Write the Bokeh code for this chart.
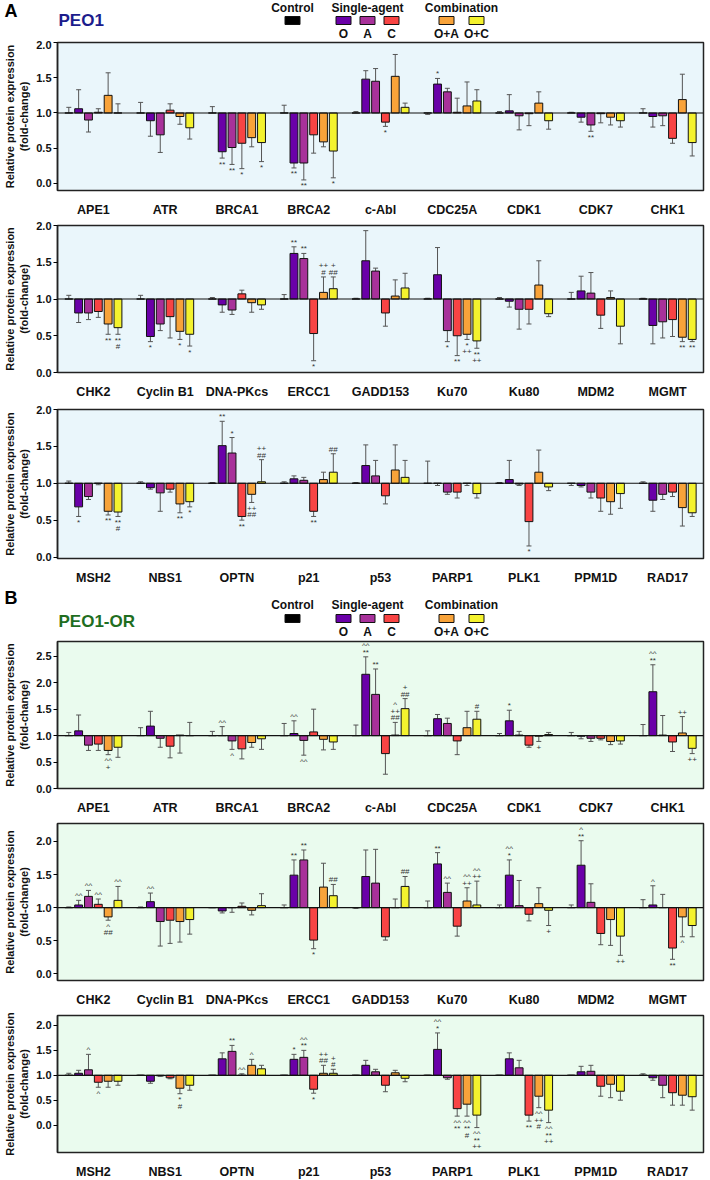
from bokeh.plotting import figure
from bokeh.models import (FactorRange, ColumnDataSource, NumeralTickFormatter, FixedTicker, Range1d, Span,
                          CustomJSTickFormatter)
from bokeh.transform import dodge
from bokeh.layouts import column
from bokeh.embed import file_html
from bokeh.resources import INLINE
from bokeh.core.properties import value

SERIES = ["Control", "O", "A", "C", "O+A", "O+C"]
COLORS = ["#000000", "#6a00a8", "#a8319a", "#f84444", "#f8a33a", "#f4f22e"]
LEG_LABELS = ["O", "A", "C", "O+A", "O+C"]

# ---------------- A: PEO1 ----------------
A1_proteins = ["APE1", "ATR", "BRCA1", "BRCA2", "c-Abl", "CDC25A", "CDK1", "CDK7", "CHK1"]
A1_vals = {
    "Control": [1.0, 1.0, 1.0, 1.0, 1.0, 1.0, 1.0, 1.0, 1.0],
    "O":   [1.06, 0.89, 0.45, 0.29, 1.48, 1.41, 1.03, 0.94, 0.95],
    "A":   [0.90, 0.69, 0.51, 0.29, 1.45, 1.30, 0.96, 0.83, 0.96],
    "C":   [1.01, 1.04, 0.57, 0.69, 0.87, 1.01, 0.99, 0.99, 0.64],
    "O+A": [1.25, 0.95, 0.65, 0.59, 1.52, 1.10, 1.14, 0.94, 1.19],
    "O+C": [1.00, 0.79, 0.58, 0.46, 1.08, 1.17, 0.89, 0.89, 0.58],
}
A1_err = {
    "Control": [1.08, 1.15, 1.09, 1.11, 1.02, 0.98, 1.02, 1.01, 1.06],
    "O":   [1.33, 0.67, 0.36, 0.22, 1.60, 1.49, 1.26, 0.87, 0.80],
    "A":   [0.73, 0.44, 0.27, 0.05, 1.63, 1.35, 0.76, 0.74, 0.82],
    "C":   [1.06, 1.13, 0.21, 0.43, 0.81, 1.21, 0.82, 0.86, 0.57],
    "O+A": [1.57, 0.84, 0.52, 0.52, 1.83, 1.44, 1.30, 0.83, 1.55],
    "O+C": [1.13, 0.63, 0.31, 0.08, 1.14, 1.33, 0.77, 0.80, 0.39],
}
A1_sig = {("BRCA1", "O"): "**", ("BRCA1", "A"): "**", ("BRCA1", "C"): "*", ("BRCA1", "O+C"): "*",
          ("BRCA2", "O"): "**", ("BRCA2", "A"): "**", ("BRCA2", "O+C"): "*",
          ("c-Abl", "C"): "*", ("CDC25A", "O"): "*", ("CDK7", "A"): "**"}

A2_proteins = ["CHK2", "Cyclin B1", "DNA-PKcs", "ERCC1", "GADD153", "Ku70", "Ku80", "MDM2", "MGMT"]
A2_vals = {
    "Control": [1.0, 1.0, 1.0, 1.0, 1.0, 1.0, 1.0, 1.0, 1.0],
    "O":   [0.81, 0.49, 0.92, 1.62, 1.52, 1.33, 0.97, 1.11, 0.64],
    "A":   [0.81, 0.66, 0.85, 1.55, 1.38, 0.57, 0.86, 1.08, 0.69],
    "C":   [0.83, 0.76, 1.07, 0.53, 0.81, 0.50, 0.86, 0.78, 0.72],
    "O+A": [0.66, 0.56, 0.95, 1.09, 1.04, 0.52, 1.19, 1.02, 0.48],
    "O+C": [0.61, 0.52, 0.92, 1.14, 1.15, 0.43, 0.80, 0.63, 0.45],
}
A2_err = {
    "Control": [1.05, 1.05, 1.02, 1.06, 1.01, 1.01, 1.02, 1.09, 1.01],
    "O":   [0.68, 0.42, 0.82, 1.71, 1.93, 1.70, 0.89, 1.31, 0.39],
    "A":   [0.72, 0.57, 0.79, 1.62, 1.42, 0.42, 0.59, 1.36, 0.47],
    "C":   [0.75, 0.47, 1.12, 0.16, 0.63, 0.23, 0.66, 0.60, 0.49],
    "O+A": [0.52, 0.45, 0.82, 1.30, 1.26, 0.45, 1.52, 1.11, 0.42],
    "O+C": [0.52, 0.36, 0.86, 1.30, 1.35, 0.33, 0.76, 0.39, 0.42],
}
A2_sig = {("CHK2", "O+A"): "**", ("CHK2", "O+C"): "**\n#",
          ("Cyclin B1", "O"): "*", ("Cyclin B1", "O+A"): "*", ("Cyclin B1", "O+C"): "*",
          ("ERCC1", "O"): "**", ("ERCC1", "A"): "**", ("ERCC1", "C"): "*",
          ("ERCC1", "O+A"): "++\n#", ("ERCC1", "O+C"): "+\n##",
          ("Ku70", "A"): "*", ("Ku70", "C"): "**", ("Ku70", "O+A"): "*\n++", ("Ku70", "O+C"): "**\n++",
          ("MGMT", "O+A"): "**", ("MGMT", "O+C"): "**"}

A3_proteins = ["MSH2", "NBS1", "OPTN", "p21", "p53", "PARP1", "PLK1", "PPM1D", "RAD17"]
A3_vals = {
    "Control": [1.0, 1.0, 1.0, 1.0, 1.0, 1.0, 1.0, 1.0, 1.0],
    "O":   [0.68, 0.94, 1.51, 1.06, 1.24, 1.00, 1.05, 0.97, 0.77],
    "A":   [0.82, 0.87, 1.41, 1.04, 1.10, 0.88, 0.99, 0.88, 0.85],
    "C":   [1.00, 0.92, 0.55, 0.62, 0.83, 0.88, 0.48, 0.80, 0.88],
    "O+A": [0.62, 0.72, 0.85, 1.05, 1.18, 1.00, 1.15, 0.75, 0.67],
    "O+C": [0.61, 0.75, 1.02, 1.15, 1.08, 0.86, 0.95, 0.86, 0.60],
}
A3_err = {
    "Control": [1.03, 1.02, 1.01, 1.02, 1.01, 1.30, 1.01, 0.97, 1.02],
    "O":   [0.55, 0.92, 1.84, 1.10, 1.52, 0.97, 1.31, 0.95, 0.62],
    "A":   [0.78, 0.62, 1.62, 1.08, 1.31, 0.85, 0.97, 0.80, 0.78],
    "C":   [0.98, 0.88, 0.50, 0.55, 0.72, 0.80, 0.15, 0.62, 0.82],
    "O+A": [0.57, 0.60, 0.74, 1.15, 1.52, 0.97, 1.45, 0.58, 0.42],
    "O+C": [0.55, 0.68, 1.32, 1.40, 1.31, 0.80, 0.90, 0.66, 0.55],
}
A3_sig = {("MSH2", "O"): "*", ("MSH2", "O+A"): "**", ("MSH2", "O+C"): "**\n#",
          ("NBS1", "O+A"): "**", ("NBS1", "O+C"): "*",
          ("OPTN", "O"): "**", ("OPTN", "A"): "*", ("OPTN", "C"): "**",
          ("OPTN", "O+A"): "++\n##", ("OPTN", "O+C"): "++\n##",
          ("p21", "C"): "**", ("p21", "O+C"): "##", ("PLK1", "C"): "*"}

# ---------------- B: PEO1-OR ----------------
B1_proteins = A1_proteins
B1_vals = {
    "Control": [1.0, 1.0, 1.0, 1.0, 1.0, 1.0, 1.0, 1.0, 1.0],
    "O":   [1.09, 1.18, 1.00, 1.04, 2.16, 1.32, 1.28, 0.99, 1.83],
    "A":   [0.82, 0.95, 0.90, 0.91, 1.78, 1.23, 1.01, 0.95, 1.01],
    "C":   [0.84, 0.80, 0.75, 1.07, 0.66, 0.90, 0.82, 0.95, 0.88],
    "O+A": [0.72, 1.01, 0.87, 0.93, 1.01, 1.15, 0.99, 0.89, 1.05],
    "O+C": [0.78, 1.00, 0.94, 0.88, 1.51, 1.31, 1.02, 0.90, 0.76],
}
B1_err = {
    "Control": [1.06, 1.15, 1.08, 1.23, 1.20, 1.09, 1.04, 1.06, 1.21],
    "O":   [1.39, 1.46, 1.17, 1.28, 2.49, 1.40, 1.48, 0.94, 2.34],
    "A":   [0.72, 0.78, 0.74, 0.63, 2.26, 1.33, 1.08, 0.89, 1.38],
    "C":   [0.72, 0.58, 0.56, 1.50, 0.27, 0.64, 0.78, 0.92, 0.70],
    "O+A": [0.64, 0.67, 0.78, 0.73, 1.25, 1.46, 0.89, 0.83, 1.36],
    "O+C": [0.59, 1.25, 0.74, 0.74, 1.70, 1.46, 1.06, 0.84, 0.66],
}
B1_sig = {("APE1", "O+A"): "^^\n+", ("BRCA1", "O"): "^^", ("BRCA1", "A"): "^",
          ("BRCA2", "O"): "^^", ("BRCA2", "A"): "^^",
          ("c-Abl", "O"): "^^\n**", ("c-Abl", "A"): "**", ("c-Abl", "O+A"): "^\n++\n##",
          ("c-Abl", "O+C"): "+\n##", ("CDC25A", "O+C"): "#", ("CDK1", "O"): "*", ("CDK1", "O+A"): "+",
          ("CHK1", "O"): "^^\n**", ("CHK1", "O+A"): "++", ("CHK1", "O+C"): "++"}

B2_proteins = A2_proteins
B2_vals = {
    "Control": [1.0, 1.0, 1.0, 1.0, 1.0, 1.0, 1.0, 1.0, 1.0],
    "O":   [1.04, 1.09, 0.95, 1.49, 1.47, 1.66, 1.49, 1.64, 1.04],
    "A":   [1.17, 0.79, 1.00, 1.72, 1.37, 1.23, 1.03, 1.08, 1.00],
    "C":   [1.05, 0.81, 1.02, 0.51, 0.56, 0.72, 0.90, 0.61, 0.39],
    "O+A": [0.86, 0.79, 0.96, 1.31, 1.00, 1.10, 1.06, 0.82, 0.86],
    "O+C": [1.11, 0.82, 1.03, 1.18, 1.32, 1.04, 0.96, 0.57, 0.73],
}
B2_err = {
    "Control": [1.01, 1.01, 1.00, 1.04, 0.99, 1.10, 1.04, 1.04, 1.12],
    "O":   [1.11, 1.22, 0.92, 1.72, 1.87, 1.83, 1.72, 2.01, 1.33],
    "A":   [1.26, 0.42, 0.93, 1.87, 1.88, 1.37, 1.41, 1.36, 1.20],
    "C":   [1.13, 0.46, 1.07, 0.38, 0.51, 0.57, 0.80, 0.44, 0.22],
    "O+A": [0.81, 0.48, 0.89, 1.67, 1.13, 1.30, 1.30, 0.43, 0.56],
    "O+C": [1.32, 0.60, 1.21, 1.35, 1.47, 1.40, 0.73, 0.28, 0.56],
}
B2_sig = {("CHK2", "O"): "^^", ("CHK2", "A"): "^^", ("CHK2", "C"): "^^", ("CHK2", "O+A"): "^\n##",
          ("CHK2", "O+C"): "^^", ("Cyclin B1", "O"): "^^",
          ("ERCC1", "O"): "**", ("ERCC1", "A"): "**", ("ERCC1", "C"): "*", ("ERCC1", "O+C"): "##",
          ("GADD153", "O+C"): "##", ("Ku70", "O"): "**", ("Ku70", "A"): "^^",
          ("Ku70", "O+A"): "^^\n++", ("Ku70", "O+C"): "^^\n++",
          ("Ku80", "O"): "^^\n*", ("Ku80", "O+C"): "+", ("MDM2", "O"): "^\n**", ("MDM2", "O+C"): "++",
          ("MGMT", "O"): "^", ("MGMT", "C"): "**", ("MGMT", "O+A"): "^"}

B3_proteins = A3_proteins
B3_vals = {
    "Control": [1.0, 1.0, 1.0, 1.0, 1.0, 1.0, 1.0, 1.0, 1.0],
    "O":   [1.04, 0.88, 1.33, 1.32, 1.20, 1.52, 1.33, 1.07, 0.95],
    "A":   [1.11, 0.99, 1.48, 1.36, 1.07, 0.95, 1.15, 1.08, 0.80],
    "C":   [0.86, 0.95, 1.00, 0.72, 0.80, 0.33, 0.20, 0.78, 0.65],
    "O+A": [0.88, 0.74, 1.20, 1.04, 1.05, 0.42, 0.58, 0.82, 0.60],
    "O+C": [0.88, 0.80, 1.13, 1.04, 0.94, 0.20, 0.30, 0.68, 0.57],
}
B3_err = {
    "Control": [1.04, 1.00, 1.00, 1.00, 1.00, 1.00, 1.00, 1.00, 1.03],
    "O":   [1.10, 0.84, 1.45, 1.42, 1.30, 1.85, 1.45, 1.18, 0.90],
    "A":   [1.42, 0.98, 1.60, 1.50, 1.12, 0.92, 1.30, 1.20, 0.55],
    "C":   [0.76, 0.93, 1.03, 0.64, 0.67, 0.18, 0.08, 0.58, 0.40],
    "O+A": [0.76, 0.63, 1.32, 1.20, 1.10, 0.18, 0.35, 0.55, 0.40],
    "O+C": [0.80, 0.70, 1.20, 1.12, 0.87, -0.05, 0.05, 0.50, 0.30],
}
B3_sig = {("MSH2", "A"): "^", ("MSH2", "C"): "^", ("NBS1", "O+A"): "*\n#",
          ("OPTN", "A"): "**", ("OPTN", "C"): "^^", ("OPTN", "O+A"): "^",
          ("p21", "O"): "*", ("p21", "A"): "^^\n**", ("p21", "C"): "*",
          ("p21", "O+A"): "++\n##", ("p21", "O+C"): "+\n#",
          ("PARP1", "O"): "^^\n*", ("PARP1", "C"): "^^\n**", ("PARP1", "O+A"): "^^\n**\n#",
          ("PARP1", "O+C"): "^^\n**\n++", ("PLK1", "C"): "**", ("PLK1", "O+A"): "^^\n++\n#",
          ("PLK1", "O+C"): "^^\n**\n++"}

# ---------------- layout / style ----------------
BL = 50
BR = 2
FW = 646
STEP = 1 / 7.3
BW = 0.8 * STEP
EB = "#555555"
BG_A = "#eaf6fb"
BG_B = "#eafbee"
FONT = "Liberation Sans"
NARROW = "Liberation Sans Narrow, Liberation Sans"
YLABEL = "Relative protein expression\n(fold-change)"


def make_panel(proteins, vals, errs, sig, yr, ticks, bg, fh, tb, bb):
    p = figure(x_range=FactorRange(*proteins), y_range=Range1d(*yr),
               frame_width=FW, frame_height=fh,
               min_border_left=BL, min_border_right=BR, min_border_top=tb, min_border_bottom=bb,
               output_backend="svg", toolbar_location=None)
    p.background_fill_color = bg
    p.border_fill_color = "white"
    p.outline_line_color = "#222222"
    p.outline_line_width = 1.5
    p.grid.visible = False

    p.xaxis.major_tick_line_color = None
    p.xaxis.minor_tick_line_color = None
    p.xaxis.axis_line_color = None
    p.xaxis.major_label_text_font = FONT
    p.xaxis.major_label_text_font_style = "bold"
    p.xaxis.major_label_text_font_size = "12.5px"
    p.xaxis.major_label_text_color = "#111111"
    p.xaxis.major_label_standoff = 6

    p.yaxis.ticker = FixedTicker(ticks=ticks)
    p.yaxis.formatter = NumeralTickFormatter(format="0.0")
    p.yaxis.minor_tick_line_color = None
    p.yaxis.major_tick_out = 4
    p.yaxis.major_tick_in = 0
    p.yaxis.axis_line_color = "#222222"
    p.yaxis.axis_line_width = 1.5
    p.yaxis.major_tick_line_width = 1.2
    p.yaxis.major_label_text_font = FONT
    p.yaxis.major_label_text_font_style = "bold"
    p.yaxis.major_label_text_font_size = "11px"
    p.yaxis.major_label_text_color = "#111111"
    p.yaxis.major_label_standoff = 2
    p.yaxis.axis_label = YLABEL
    p.yaxis.axis_label_text_font = FONT
    p.yaxis.axis_label_text_font_style = "bold"
    p.yaxis.axis_label_text_font_size = "11px"
    p.yaxis.axis_label_text_color = "#111111"
    p.yaxis.axis_label_standoff = 3

    for j, s in enumerate(SERIES):
        off = (j - 2.5) * STEP
        src = ColumnDataSource(dict(prot=proteins, val=vals[s], err=errs[s]))
        xs = dodge("prot", off, range=p.x_range)
        p.segment(x0=xs, y0="val", x1=xs, y1="err", source=src, line_color=EB, line_width=1)
        p.scatter(x=xs, y="err", marker="dash", size=5, line_color=EB, line_width=1, source=src)
        p.vbar(x=xs, top="val", bottom=1.0, width=BW, fill_color=COLORS[j],
               line_color="#111111", line_width=1, source=src)

        rows = dict(prot=[], y=[], t=[], yo=[])
        for i, pr in enumerate(proteins):
            sg = sig.get((pr, s), "")
            if not sg:
                continue
            lines = sg.split("\n")
            up = errs[s][i] >= vals[s][i]
            seq = list(reversed(lines)) if up else lines
            for k, t in enumerate(seq):
                rows["prot"].append(pr)
                rows["y"].append(errs[s][i])
                rows["t"].append(t)
                rows["yo"].append(-(4.5 + 6.5 * k) if up else (6 + 6.5 * k))
        if rows["t"]:
            tsrc = ColumnDataSource(rows)
            p.text(x=dodge("prot", off, range=p.x_range), y="y", text="t", y_offset="yo",
                   source=tsrc, text_align="center", text_baseline="middle",
                   text_font=value(FONT), text_font_size="8px", text_color="#333333")

    p.add_layout(Span(location=1.0, dimension="width", line_color="#111111", line_width=1.2))
    return p


# legend positions in frame pixels (frame left edge = 0)
LEG_SQ_X = [235, 286, 310, 334, 389, 419]
LEG_HEAD_X = [235, 310, 404]


def make_header(letter, title, title_color, h, y_letter, y_head, y_sq, y_lab, y_title):
    p = figure(x_range=Range1d(0, FW), y_range=Range1d(h, 0),
               frame_width=FW, frame_height=h,
               min_border_left=BL, min_border_right=BR, min_border_top=0, min_border_bottom=0,
               x_axis_location=None, y_axis_location="left",
               output_backend="svg", toolbar_location=None)
    p.grid.visible = False
    p.outline_line_color = None
    p.background_fill_color = "white"
    p.border_fill_color = "white"
    # panel letter drawn as the single tick label of a bare left axis
    p.yaxis.ticker = FixedTicker(ticks=[y_letter])
    p.yaxis.formatter = CustomJSTickFormatter(code="return '%s';" % letter)
    p.yaxis.axis_line_color = None
    p.yaxis.major_tick_line_color = None
    p.yaxis.minor_tick_line_color = None
    p.yaxis.major_label_text_font = FONT
    p.yaxis.major_label_text_font_style = "bold"
    p.yaxis.major_label_text_font_size = "18px"
    p.yaxis.major_label_text_color = "black"
    p.yaxis.major_label_standoff = 34

    p.text(x=[1], y=[y_title], text=[title], text_font=value(FONT), text_font_style="bold",
           text_font_size="17px", text_baseline="middle", text_align="left", text_color=title_color)
    p.rect(x=LEG_SQ_X, y=[y_sq] * 6, width=15, height=8, fill_color=COLORS, line_color="#111111",
           line_width=1)
    p.text(x=LEG_HEAD_X, y=[y_head] * 3, text=["Control", "Single-agent", "Combination"],
           text_font=value(NARROW), text_font_style="bold", text_font_size="12px",
           text_baseline="middle", text_align="center", text_color="#111111")
    p.text(x=LEG_SQ_X[1:], y=[y_lab] * 5, text=LEG_LABELS,
           text_font=value(NARROW), text_font_style="bold", text_font_size="12px",
           text_baseline="middle", text_align="center", text_color="#111111")
    return p


hA = make_header("A", "PEO1", "#1c1c8c", 40, 10, 7, 20, 33, 20)
pA1 = make_panel(A1_proteins, A1_vals, A1_err, A1_sig, (-0.1, 2.0), [0, 0.5, 1.0, 1.5, 2.0], BG_A, 148, 2, 28)
pA2 = make_panel(A2_proteins, A2_vals, A2_err, A2_sig, (0.0, 2.0), [0, 0.5, 1.0, 1.5, 2.0], BG_A, 147, 6, 31)
pA3 = make_panel(A3_proteins, A3_vals, A3_err, A3_sig, (-0.02, 2.0), [0, 0.5, 1.0, 1.5, 2.0], BG_A, 149, 6, 28)
hB = make_header("B", "PEO1-OR", "#1f6e1f", 52, 10, 17, 31, 44, 34)
pB1 = make_panel(B1_proteins, B1_vals, B1_err, B1_sig, (0.0, 2.78), [0, 0.5, 1.0, 1.5, 2.0, 2.5], BG_B, 147, 2, 28)
pB2 = make_panel(B2_proteins, B2_vals, B2_err, B2_sig, (-0.1, 2.27), [0, 0.5, 1.0, 1.5, 2.0], BG_B, 157, 6, 22)
pB3 = make_panel(B3_proteins, B3_vals, B3_err, B3_sig, (-0.55, 2.2), [0, 0.5, 1.0, 1.5, 2.0], BG_B, 137, 6, 22)

layout = column(hA, pA1, pA2, pA3, hB, pB1, pB2, pB3, spacing=0)
open("out.html", "w").write(file_html(layout, INLINE))
